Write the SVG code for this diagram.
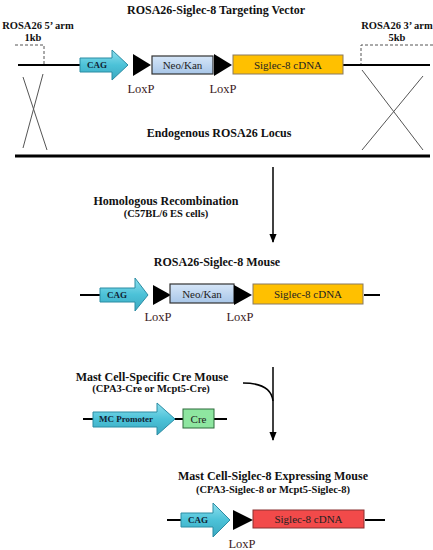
<svg xmlns="http://www.w3.org/2000/svg" width="433" height="550" viewBox="0 0 433 550">
<style>
.t{font-family:"Liberation Serif","Times New Roman",serif;font-weight:bold;fill:#111;text-anchor:middle}
.h{font-size:12px}
.s{font-size:10.5px}
.lox{font-family:"Liberation Serif","Times New Roman",serif;font-size:12.5px;fill:#3a1c1c;text-anchor:middle}
.bt{font-family:"Liberation Serif","Times New Roman",serif;font-size:11px;fill:#222;text-anchor:middle}
.bb{font-family:"Liberation Serif","Times New Roman",serif;font-size:9px;font-weight:bold;fill:#123;text-anchor:middle}
.dna{stroke:#000;stroke-width:2;fill:none}
.dash{stroke:#555;stroke-width:1;stroke-dasharray:3,2;fill:none}
.x{stroke:#555;stroke-width:1;fill:none}
.arrow{fill:url(#cy);stroke:#2b8ca3;stroke-width:1}
.loxp{fill:#000}
.neo{fill:url(#lb);stroke:#333;stroke-width:1.2}
.sig{fill:#ffc000;stroke:#8a7a60;stroke-width:1}
.red{fill:#f24a4a;stroke:#8a3030;stroke-width:1}
.cre{fill:#8ee6a0;stroke:#2d6b3a;stroke-width:1}
.conn{stroke:#000;stroke-width:1.5;fill:none}
</style>
<defs>
<linearGradient id="cy" x1="0" y1="0" x2="0" y2="1"><stop offset="0" stop-color="#8fe0ee"/><stop offset="0.5" stop-color="#4cc2d8"/><stop offset="1" stop-color="#3aa8c0"/></linearGradient>
<linearGradient id="lb" x1="0" y1="0" x2="0" y2="1"><stop offset="0" stop-color="#d6e6f8"/><stop offset="1" stop-color="#a8c6e8"/></linearGradient>
<marker id="ah" viewBox="0 0 10 10" refX="9" refY="5" markerWidth="6" markerHeight="6" orient="auto"><path d="M0,1 L10,5 L0,9 z" fill="#000"/></marker>
</defs>

<g id="vector">
<text class="t h" x="216" y="14">ROSA26-Siglec-8 Targeting Vector</text>
<text class="t s" x="38" y="29">ROSA26 5’ arm</text>
<text class="t s" x="33" y="41">1kb</text>
<text class="t s" x="397" y="29">ROSA26 3’ arm</text>
<text class="t s" x="397" y="41">5kb</text>
<path class="dash" d="M15,45 H44 V65"/>
<path class="dash" d="M433,45 H361 V65"/>
<path class="dna" d="M18,65 H81"/>
<path class="dna" d="M343,65 H430"/>
<path class="arrow" d="M80,58 H112 V50 L128,65 L112,80 V72 H80 Z"/>
<text class="bb" x="97" y="68">CAG</text>
<path class="loxp" d="M133,54 L151,65 L133,76 Z"/>
<rect class="neo" x="152" y="56" width="61" height="18"/>
<text class="bt" x="182.5" y="69">Neo/Kan</text>
<path class="loxp" d="M214,54 L232,65 L214,76 Z"/>
<rect class="sig" x="233" y="55" width="110" height="19"/>
<text class="bt" x="288" y="68.5">Siglec-8 cDNA</text>
<text class="lox" x="141" y="93">LoxP</text>
<text class="lox" x="223" y="93">LoxP</text>
<path class="x" d="M23,77 L47,150 M43,74 L23,148"/>
<path class="x" d="M362,70 L423,150 M423,76 L362,150"/>
<text class="t h" x="219" y="137">Endogenous ROSA26 Locus</text>
<path d="M15,156 H430" stroke="#000" stroke-width="3"/>
</g>

<g id="recomb-label">
<text class="t h" x="166" y="205">Homologous Recombination</text>
<text class="t s" x="166" y="217">(C57BL/6 ES cells)</text>
</g>

<g id="rosa-mouse">
<text class="t h" x="217" y="266">ROSA26-Siglec-8 Mouse</text>
<path class="dna" d="M80,295 H101"/>
<path class="dna" d="M364,295 H380"/>
<path class="arrow" d="M100,288 H135 V278 L148,295 L135,311 V302 H100 Z"/>
<text class="bb" x="117" y="298">CAG</text>
<path class="loxp" d="M153,285 L171,295 L153,305 Z"/>
<rect class="neo" x="170" y="284" width="64" height="19"/>
<text class="bt" x="202" y="297.5">Neo/Kan</text>
<path class="loxp" d="M234,285 L252,295 L234,305 Z"/>
<rect class="sig" x="253" y="284" width="110" height="20"/>
<text class="bt" x="308" y="298">Siglec-8 cDNA</text>
<text class="lox" x="158" y="321">LoxP</text>
<text class="lox" x="240" y="321">LoxP</text>
</g>

<g id="cre-mouse">
<text class="t h" x="152" y="381">Mast Cell-Specific Cre Mouse</text>
<text class="t s" x="151" y="392">(CPA3-Cre or Mcpt5-Cre)</text>
<path class="dna" d="M83,419 H227"/>
<path class="arrow" d="M93,412 H157 V403 L175,419 L157,435 V427 H93 Z"/>
<text class="bb" x="126" y="422">MC Promoter</text>
<rect class="cre" x="183" y="409" width="31" height="19"/>
<text class="bt" x="198.5" y="422.5">Cre</text>
</g>

<g id="mc-mouse">
<text class="t h" x="273" y="480">Mast Cell-Siglec-8 Expressing Mouse</text>
<text class="t s" x="273" y="493">(CPA3-Siglec-8 or Mcpt5-Siglec-8)</text>
<path class="dna" d="M167,520 H182"/>
<path class="dna" d="M365,520 H385"/>
<path class="arrow" d="M181,513 H213 V503 L230,520 L213,537 V527 H181 Z"/>
<text class="bb" x="198" y="523">CAG</text>
<path class="loxp" d="M233,510 L253,520 L233,530 Z"/>
<rect class="red" x="253" y="510" width="111" height="18"/>
<text class="bt" x="308.5" y="523">Siglec-8 cDNA</text>
<text class="lox" x="242" y="548">LoxP</text>
</g>

<g id="connectors">
<path class="conn" d="M273,167 V242" marker-end="url(#ah)"/>
<path class="conn" d="M273,367 V440" marker-end="url(#ah)"/>
<path class="conn" d="M243,383 Q271,383 273,401"/>
</g>
</svg>
